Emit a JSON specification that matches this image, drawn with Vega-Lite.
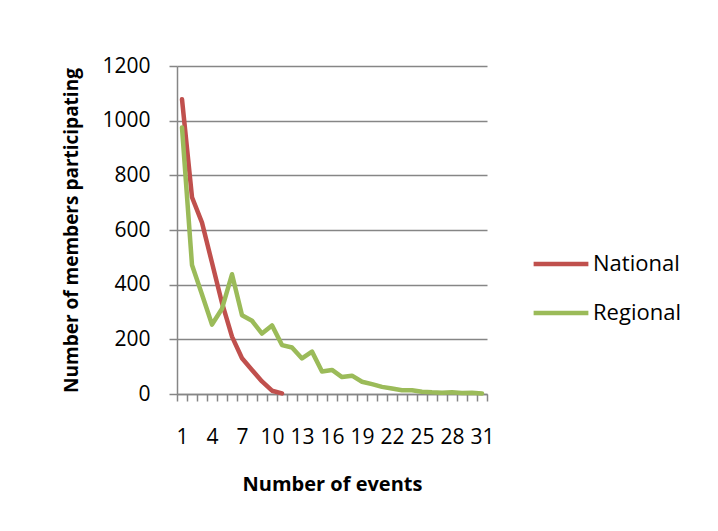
{
  "$schema": "https://vega.github.io/schema/vega-lite/v6.json",
  "autosize": {"type": "none"},
  "width": 310,
  "height": 328,
  "padding": {"left": 177, "top": 66, "right": 231, "bottom": 137},
  "background": "white",
  "config": {
    "font": "Open Sans, sans-serif",
    "view": {"stroke": null},
    "axis": {"labelColor": "black", "titleColor": "black"},
    "legend": {"labelColor": "black"}
  },
  "data": {
    "values": [
      {"n": 1, "series": "National", "v": 1078},
      {"n": 2, "series": "National", "v": 720},
      {"n": 3, "series": "National", "v": 627},
      {"n": 4, "series": "National", "v": 480},
      {"n": 5, "series": "National", "v": 333},
      {"n": 6, "series": "National", "v": 210},
      {"n": 7, "series": "National", "v": 131},
      {"n": 8, "series": "National", "v": 88},
      {"n": 9, "series": "National", "v": 46},
      {"n": 10, "series": "National", "v": 12},
      {"n": 11, "series": "National", "v": 2},
      {"n": 1, "series": "Regional", "v": 975},
      {"n": 2, "series": "Regional", "v": 472},
      {"n": 3, "series": "Regional", "v": 364},
      {"n": 4, "series": "Regional", "v": 254},
      {"n": 5, "series": "Regional", "v": 312},
      {"n": 6, "series": "Regional", "v": 438},
      {"n": 7, "series": "Regional", "v": 288},
      {"n": 8, "series": "Regional", "v": 268},
      {"n": 9, "series": "Regional", "v": 221},
      {"n": 10, "series": "Regional", "v": 251},
      {"n": 11, "series": "Regional", "v": 179},
      {"n": 12, "series": "Regional", "v": 170},
      {"n": 13, "series": "Regional", "v": 130},
      {"n": 14, "series": "Regional", "v": 155},
      {"n": 15, "series": "Regional", "v": 82},
      {"n": 16, "series": "Regional", "v": 88},
      {"n": 17, "series": "Regional", "v": 62},
      {"n": 18, "series": "Regional", "v": 67},
      {"n": 19, "series": "Regional", "v": 45},
      {"n": 20, "series": "Regional", "v": 36},
      {"n": 21, "series": "Regional", "v": 26},
      {"n": 22, "series": "Regional", "v": 20},
      {"n": 23, "series": "Regional", "v": 14},
      {"n": 24, "series": "Regional", "v": 14},
      {"n": 25, "series": "Regional", "v": 8},
      {"n": 26, "series": "Regional", "v": 6},
      {"n": 27, "series": "Regional", "v": 5},
      {"n": 28, "series": "Regional", "v": 6},
      {"n": 29, "series": "Regional", "v": 4},
      {"n": 30, "series": "Regional", "v": 5},
      {"n": 31, "series": "Regional", "v": 2}
    ]
  },
  "mark": {"type": "line", "strokeWidth": 4.5, "strokeCap": "round", "strokeJoin": "round"},
  "encoding": {
    "x": {
      "field": "n",
      "type": "quantitative",
      "scale": {"domain": [0.5, 31.5], "nice": false, "zero": false},
      "axis": {
        "values": [0.5,1.5,2.5,3.5,4.5,5.5,6.5,7.5,8.5,9.5,10.5,11.5,12.5,13.5,14.5,15.5,16.5,17.5,18.5,19.5,20.5,21.5,22.5,23.5,24.5,25.5,26.5,27.5,28.5,29.5,30.5,31.5],
        "labelExpr": "(datum.value - 0.5) % 3 == 0 && datum.value < 31 ? format(datum.value + 0.5, 'd') : ''",
        "labelOffset": 5,
        "labelOverlap": false,
        "labelBound": false,
        "labelFlush": false,
        "labelFontSize": 21,
        "labelPadding": 25,
        "ticks": true,
        "tickSize": 7,
        "tickWidth": 1.5,
        "tickColor": "#868686",
        "domainColor": "#868686",
        "domainWidth": 1.5,
        "grid": false,
        "title": "Number of events",
        "titleFontSize": 20,
        "titleFontWeight": "bold",
        "titlePadding": 27
      }
    },
    "y": {
      "field": "v",
      "type": "quantitative",
      "scale": {"domain": [0, 1200], "nice": false},
      "axis": {
        "values": [0, 200, 400, 600, 800, 1000, 1200],
        "format": "d",
        "grid": true,
        "gridColor": "#868686",
        "gridWidth": 1.5,
        "gridOpacity": 1,
        "domainColor": "#868686",
        "domainWidth": 1.5,
        "ticks": true,
        "tickColor": "#868686",
        "tickWidth": 1.5,
        "tickSize": 8,
        "labelFontSize": 21,
        "labelPadding": 19,
        "title": "Number of members participating",
        "titleFontSize": 19,
        "titleFontWeight": "bold",
        "titlePadding": 20
      }
    },
    "color": {
      "field": "series",
      "type": "nominal",
      "scale": {"domain": ["National", "Regional"], "range": ["#C0504D", "#9BBB59"]},
      "legend": {
        "title": null,
        "orient": "none",
        "legendX": 354,
        "legendY": 168,
        "padding": 0,
        "symbolType": "stroke",
        "symbolSize": 3000,
        "symbolStrokeWidth": 4.5,
        "labelFontSize": 22,
        "labelOffset": 2,
        "rowPadding": 8
      }
    }
  }
}
